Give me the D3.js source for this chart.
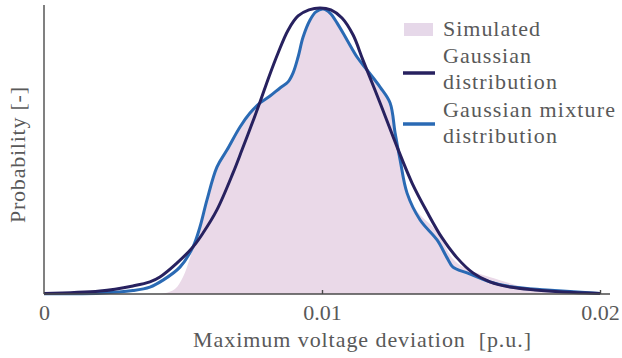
<!DOCTYPE html>
<html>
<head>
<meta charset="utf-8">
<script src="https://cdn.jsdelivr.net/npm/d3@7"></script>
<style>
  html, body { margin: 0; padding: 0; background: #fff; }
</style>
</head>
<body>
<svg id="chart" width="622" height="358"></svg>
<script>
// Maximum voltage deviation [p.u.] (x) and normalised probability density (y)
const simX = [0, 0.00381, 0.00435, 0.00471, 0.00500, 0.00525, 0.00550, 0.00579, 0.00615, 0.00655,
  0.00705, 0.00741, 0.00777, 0.00813, 0.00849, 0.00878, 0.00896, 0.00914, 0.00932, 0.00957,
  0.00978, 0.01004, 0.01029, 0.01054, 0.01090, 0.01126, 0.01162, 0.01209, 0.01245, 0.01263,
  0.01281, 0.01306, 0.01353, 0.01396, 0.01432, 0.01468, 0.01514, 0.01568, 0.01640, 0.01723,
  0.01820, 0.01928, 0.02];
const simY = [0, 0, 0.003, 0.017, 0.059, 0.125, 0.204, 0.308, 0.422, 0.498,
  0.578, 0.626, 0.661, 0.685, 0.713, 0.734, 0.765, 0.820, 0.889, 0.948,
  0.976, 0.986, 0.972, 0.938, 0.879, 0.820, 0.775, 0.716, 0.661, 0.557,
  0.464, 0.349, 0.273, 0.235, 0.187, 0.125, 0.090, 0.069, 0.048, 0.024,
  0.010, 0.003, 0];

const gaussX = [0, 0.00201, 0.00320, 0.00381, 0.00417, 0.00478, 0.00536, 0.00572, 0.00622, 0.00680,
  0.00712, 0.00745, 0.00777, 0.00809, 0.00842, 0.00878, 0.00914, 0.00953, 0.00993, 0.01032,
  0.01072, 0.01112, 0.01147, 0.01209, 0.01270, 0.01324, 0.01378, 0.01432, 0.01486, 0.01543,
  0.01604, 0.01676, 0.01766, 0.01867, 0.02];
const gaussY = [0.002, 0.010, 0.028, 0.042, 0.059, 0.107, 0.163, 0.211, 0.291, 0.419,
  0.498, 0.581, 0.664, 0.751, 0.834, 0.913, 0.962, 0.983, 0.990, 0.983,
  0.955, 0.896, 0.810, 0.661, 0.509, 0.384, 0.284, 0.194, 0.125, 0.073,
  0.042, 0.024, 0.014, 0.007, 0.002];

const mixX = [0, 0.00201, 0.00320, 0.00381, 0.00428, 0.00489, 0.00536, 0.00561, 0.00586, 0.00622,
  0.00658, 0.00705, 0.00741, 0.00777, 0.00813, 0.00849, 0.00878, 0.00896, 0.00914, 0.00932,
  0.00957, 0.00978, 0.01004, 0.01029, 0.01054, 0.01090, 0.01126, 0.01162, 0.01209, 0.01245,
  0.01263, 0.01281, 0.01306, 0.01353, 0.01414, 0.01450, 0.01471, 0.01522, 0.01604, 0.01687,
  0.01809, 0.02];
const mixY = [0.001, 0.003, 0.012, 0.024, 0.048, 0.093, 0.163, 0.232, 0.325, 0.439,
  0.498, 0.578, 0.626, 0.661, 0.685, 0.713, 0.734, 0.765, 0.820, 0.889,
  0.948, 0.976, 0.986, 0.972, 0.938, 0.879, 0.820, 0.775, 0.716, 0.661,
  0.557, 0.464, 0.349, 0.256, 0.187, 0.125, 0.093, 0.073, 0.042, 0.024,
  0.014, 0.002];

const xTicks = [0, 0.01, 0.02];
const xTickLabels = ["0", "0.01", "0.02"];
const legendLabels = [["Simulated"], ["Gaussian", "distribution"], ["Gaussian mixture", "distribution"]];
const xTitle = "Maximum voltage deviation\u00a0\u00a0[p.u.]";
const yTitle = "Probability [-]";

const colors = { sim: "#ead9e8", simKey: "#e6d8e9", gauss: "#27215f", mix: "#2a6ab4", axis: "#4a4a4a", text: "#595959" };
const FONT = "Liberation Serif";
const FS = 22;

const svg = d3.select("#chart");
const x = d3.scaleLinear().domain([0, 0.02]).range([44, 600]);
const y = d3.scaleLinear().domain([0, 1]).range([294, 5]);

const zip = (xs, ys) => xs.map((v, i) => [v, ys[i]]);
const curve = d3.curveCatmullRom.alpha(0.5);

// simulated density (filled)
svg.append("path")
  .datum(zip(simX, simY))
  .attr("fill", colors.sim)
  .attr("d", d3.area().x(d => x(d[0])).y0(y(0)).y1(d => y(d[1])).curve(curve));

const line = d3.line().x(d => x(d[0])).y(d => y(d[1])).curve(curve);

svg.append("path").datum(zip(mixX, mixY))
  .attr("fill", "none").attr("stroke", colors.mix).attr("stroke-width", 3)
  .attr("stroke-linejoin", "round").attr("d", line);

svg.append("path").datum(zip(gaussX, gaussY))
  .attr("fill", "none").attr("stroke", colors.gauss).attr("stroke-width", 3)
  .attr("stroke-linejoin", "round").attr("d", line);

// axes
const gx = svg.append("g").attr("transform", `translate(0,${y(0)})`)
  .call(d3.axisBottom(x).tickValues(xTicks).tickFormat((d, i) => xTickLabels[i]).tickSize(-4).tickPadding(10));
gx.attr("font-family", FONT).attr("font-size", FS);
gx.select(".domain").attr("d", `M${x(0)},0H610`).attr("stroke", colors.axis).attr("stroke-width", 1.4);
gx.selectAll(".tick line").attr("stroke", colors.axis).attr("stroke-width", 1.4)
  .filter(d => d === 0).remove();
gx.selectAll(".tick text").attr("fill", colors.text);

svg.append("line").attr("x1", x(0)).attr("x2", x(0)).attr("y1", y(0)).attr("y2", y(1))
  .attr("stroke", colors.axis).attr("stroke-width", 1.4);

function label(sel, txt, width) {
  return sel.attr("font-family", FONT).attr("font-size", FS).attr("fill", colors.text)
    .attr("textLength", width).attr("lengthAdjust", "spacing").text(txt);
}

label(svg.append("text").attr("x", 362).attr("y", 347).attr("text-anchor", "middle"), xTitle, 338);
label(svg.append("text").attr("transform", "translate(25,155) rotate(-90)").attr("text-anchor", "middle"), yTitle, 136);

// legend
const lg = svg.append("g");
lg.append("rect").attr("x", 404).attr("y", 23).attr("width", 29).attr("height", 13).attr("fill", colors.simKey);
lg.append("line").attr("x1", 403).attr("x2", 435).attr("y1", 73).attr("y2", 73)
  .attr("stroke", colors.gauss).attr("stroke-width", 3.5);
lg.append("line").attr("x1", 403).attr("x2", 435).attr("y1", 124).attr("y2", 124)
  .attr("stroke", colors.mix).attr("stroke-width", 3.5);
const baselines = [[36], [63, 89], [117, 143]];
const widths = [[97], [88, 114], [172, 114]];
legendLabels.forEach((lines, i) => {
  lines.forEach((t, j) => {
    label(lg.append("text").attr("x", 443).attr("y", baselines[i][j]), t, widths[i][j]);
  });
});
</script>
</body>
</html>
